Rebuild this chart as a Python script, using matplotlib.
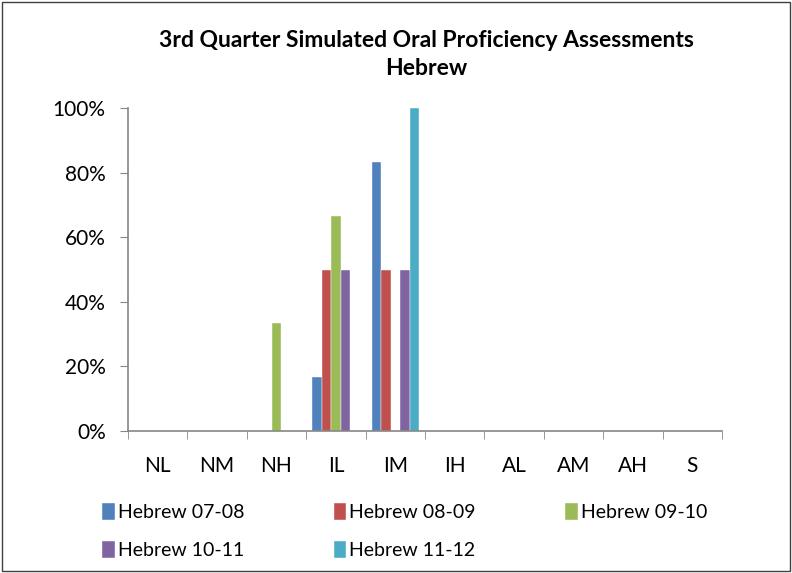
import numpy as np
import matplotlib.pyplot as plt
from matplotlib.patches import Rectangle
from matplotlib.ticker import PercentFormatter

plt.rcParams['font.family'] = ['Lato', 'DejaVu Sans']

levels = ['NL', 'NM', 'NH', 'IL', 'IM', 'IH', 'AL', 'AM', 'AH', 'S']
series = ['Hebrew 07-08', 'Hebrew 08-09', 'Hebrew 09-10', 'Hebrew 10-11', 'Hebrew 11-12']
heb_0708 = [0, 0, 0, 0.167, 0.833, 0, 0, 0, 0, 0]
heb_0809 = [0, 0, 0, 0.50, 0.50, 0, 0, 0, 0, 0]
heb_0910 = [0, 0, 0.333, 0.667, 0, 0, 0, 0, 0, 0]
heb_1011 = [0, 0, 0, 0.50, 0.50, 0, 0, 0, 0, 0]
heb_1112 = [0, 0, 0, 0, 1.0, 0, 0, 0, 0, 0]
values = [heb_0708, heb_0809, heb_0910, heb_1011, heb_1112]
colors = ['#4F81BD', '#C0504D', '#9BBB59', '#8064A2', '#4BACC6']

fig = plt.figure(figsize=(7.92, 5.73), dpi=100)
ax = fig.add_axes([0.1616, 0.2478, 0.75, 0.5637])

x = np.arange(len(levels))
w = 0.16
bars = []
for i, (name, vals) in enumerate(zip(series, values)):
    b = ax.bar(x + (i - 2) * w, vals, w, color=colors[i], label=name,
               edgecolor='white', linewidth=0.3)
    bars.append(b)

ax.set_xlim(-0.5, len(levels) - 0.5)
ax.set_ylim(0, 1)
ax.set_yticks(np.arange(0, 1.01, 0.2))
ax.yaxis.set_major_formatter(PercentFormatter(1.0, decimals=0))
ax.set_xticks(x)
ax.set_xticklabels(levels)
ax.set_xticks(np.arange(-0.5, len(levels)), minor=True)
ax.tick_params(axis='x', which='major', length=0, pad=18, labelsize=15)
ax.tick_params(axis='x', which='minor', length=6, color='#868686')
ax.tick_params(axis='y', length=6, color='#868686', labelsize=15, pad=10)

for s in ['top', 'right']:
    ax.spines[s].set_visible(False)
for s in ['left', 'bottom']:
    ax.spines[s].set_color('#868686')
    ax.spines[s].set_linewidth(1.2)

fig.text(0.538, 0.930, '3rd Quarter Simulated Oral Proficiency Assessments',
         ha='center', va='center', fontsize=16.5, fontweight='bold')
fig.text(0.538, 0.881, 'Hebrew', ha='center', va='center', fontsize=16.5, fontweight='bold')

# row-major legend order like the original
order = [0, 3, 1, 4, 2]
fig.legend([bars[i] for i in order], [series[i] for i in order],
           loc='center', bbox_to_anchor=(0.511, 0.073), ncol=3, frameon=False,
           fontsize=14, handlelength=0.65, handleheight=0.95, handletextpad=0.15,
           columnspacing=4.6, labelspacing=1.05)

fig.patches.append(Rectangle((0.003, 0.003), 0.994, 0.994, transform=fig.transFigure,
                             fill=False, edgecolor='#404040', linewidth=1))

fig.savefig('out.png', dpi=100)
